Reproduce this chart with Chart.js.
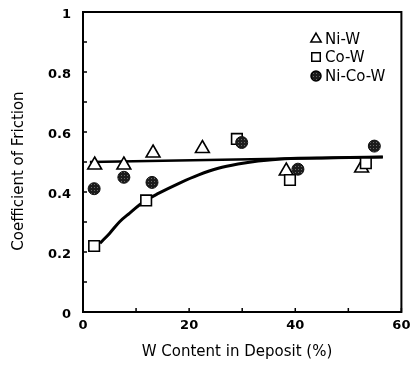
<!DOCTYPE html>
<html>
<head>
<meta charset="utf-8">
<script src="https://cdn.jsdelivr.net/npm/chart.js@4/dist/chart.umd.min.js"></script>
<style>body{margin:0;background:#fff}</style>
</head>
<body>
<canvas id="canvas" width="411" height="368"></canvas>
<script>
// values
const niW = [[2.2, 0.49], [7.7, 0.49], [13.2, 0.53], [22.5, 0.545], [38.3, 0.47], [52.5, 0.48]];
const coW = [[2.1, 0.22], [11.9, 0.372], [29.0, 0.577], [39.0, 0.44], [53.3, 0.496]];
const niCoW = [[2.1, 0.411], [7.7, 0.449], [13.0, 0.432], [29.9, 0.565], [40.5, 0.476], [54.9, 0.553]];
// fitted curves
const niWFit = [[1.3, 0.5], [56.5, 0.517]];
const coWFit = [[3.2, 0.229], [5.0, 0.262], [6.9, 0.301], [8.75, 0.329], [11.5, 0.368], [14.3, 0.396],
  [18.1, 0.429], [21.8, 0.457], [25.5, 0.479], [29.2, 0.493], [33, 0.503], [38, 0.511], [47, 0.514], [56.5, 0.517]];
const xTicks = [0, 20, 40, 60];
const yTicks = [0, 0.2, 0.4, 0.6, 0.8, 1];

const pts = arr => arr.map(p => ({x: p[0], y: p[1]}));

// stippled dark fill for the Ni-Co-W dots
const pc = document.createElement('canvas');
pc.width = 3; pc.height = 3;
const pctx = pc.getContext('2d');
pctx.fillStyle = '#1c1c1c';
pctx.fillRect(0, 0, 3, 3);
pctx.fillStyle = '#6a6a6a';
pctx.fillRect(1, 1, 1, 1);
const dotFill = pctx.createPattern(pc, 'repeat');

const frame = {
  id: 'frame',
  afterDraw(chart) {
    const c = chart.ctx, a = chart.chartArea;
    const xs = chart.scales.x, ys = chart.scales.y;
    c.save();
    c.strokeStyle = '#000';
    c.lineWidth = 2;
    c.strokeRect(a.left, a.top, a.right - a.left, a.bottom - a.top);
    // inward ticks
    c.lineWidth = 1.5;
    c.beginPath();
    xs.ticks.forEach(t => {
      const px = xs.getPixelForValue(t.value);
      c.moveTo(px, a.bottom); c.lineTo(px, a.bottom - 4);
    });
    ys.ticks.forEach(t => {
      const py = ys.getPixelForValue(t.value);
      c.moveTo(a.left, py); c.lineTo(a.left + 4, py);
    });
    c.stroke();

    // axis titles
    c.fillStyle = '#000';
    c.font = '15px "DejaVu Sans"';
    c.textAlign = 'center';
    c.textBaseline = 'middle';
    c.fillText('W Content in Deposit (%)', 237, 352);
    c.save();
    c.translate(19, 171);
    c.rotate(-Math.PI / 2);
    c.fillText('Coefficient of Friction', 0, 0);
    c.restore();

    // legend
    const rows = [39, 57, 76];
    c.textAlign = 'left';
    chart.data.datasets.filter(d => d.label).forEach((d, i) => {
      c.fillStyle = d.backgroundColor;
      c.strokeStyle = '#000';
      c.lineWidth = 1.5;
      Chart.helpers.drawPoint(c, {pointStyle: d.pointStyle, radius: d.pointStyle === 'circle' ? 5 : 6, borderWidth: 1.5, rotation: 0}, 316, rows[i]);
      c.fillStyle = '#000';
      c.fillText(d.label, 325, rows[i] + 1);
    });
    c.restore();
  }
};

new Chart(document.getElementById('canvas'), {
  type: 'scatter',
  data: {
    datasets: [
      {label: 'Ni-W', data: pts(niW), pointStyle: 'triangle', pointRadius: 8, backgroundColor: '#fff', borderColor: '#000', borderWidth: 1.6, order: 3},
      {label: 'Co-W', data: pts(coW), pointStyle: 'rect', pointRadius: 7.5, backgroundColor: '#fff', borderColor: '#000', borderWidth: 1.6, order: 2},
      {label: 'Ni-Co-W', data: pts(niCoW), pointStyle: 'circle', pointRadius: 6, backgroundColor: dotFill, borderColor: '#111', borderWidth: 1, order: 1},
      {data: pts(niWFit), showLine: true, pointRadius: 0, borderColor: '#000', borderWidth: 2.5, order: 10},
      {data: pts(coWFit), showLine: true, pointRadius: 0, borderColor: '#000', borderWidth: 3, cubicInterpolationMode: 'monotone', order: 10}
    ]
  },
  options: {
    responsive: false,
    animation: false,
    devicePixelRatio: 1,
    layout: {padding: {top: 12, right: 6, left: 0, bottom: 0}},
    plugins: {legend: {display: false}, tooltip: {enabled: false}},
    scales: {
      x: {
        min: 0, max: 60,
        afterFit: s => { s.height = 56; s.paddingLeft = 0; s.paddingRight = 0; },
        grid: {display: true, drawOnChartArea: false, drawTicks: false, color: 'transparent'},
        border: {display: false},
        ticks: {
          stepSize: 10, padding: 6, color: '#000',
          font: {family: 'DejaVu Sans', weight: 'bold', size: 13},
          maxRotation: 0,
          callback: v => xTicks.includes(v) ? String(v) : ''
        }
      },
      y: {
        min: 0, max: 1,
        afterFit: s => { s.width = 83; s.paddingTop = 0; s.paddingBottom = 0; },
        grid: {display: true, drawOnChartArea: false, drawTicks: false, color: 'transparent'},
        border: {display: false},
        ticks: {
          stepSize: 0.1, padding: 12, labelOffset: 3, color: '#000',
          font: {family: 'DejaVu Sans', weight: 'bold', size: 13},
          callback: v => {
            const r = Math.round(v * 10) / 10;
            return yTicks.includes(r) ? String(r) : '';
          }
        }
      }
    }
  },
  plugins: [frame]
});
</script>
</body>
</html>
